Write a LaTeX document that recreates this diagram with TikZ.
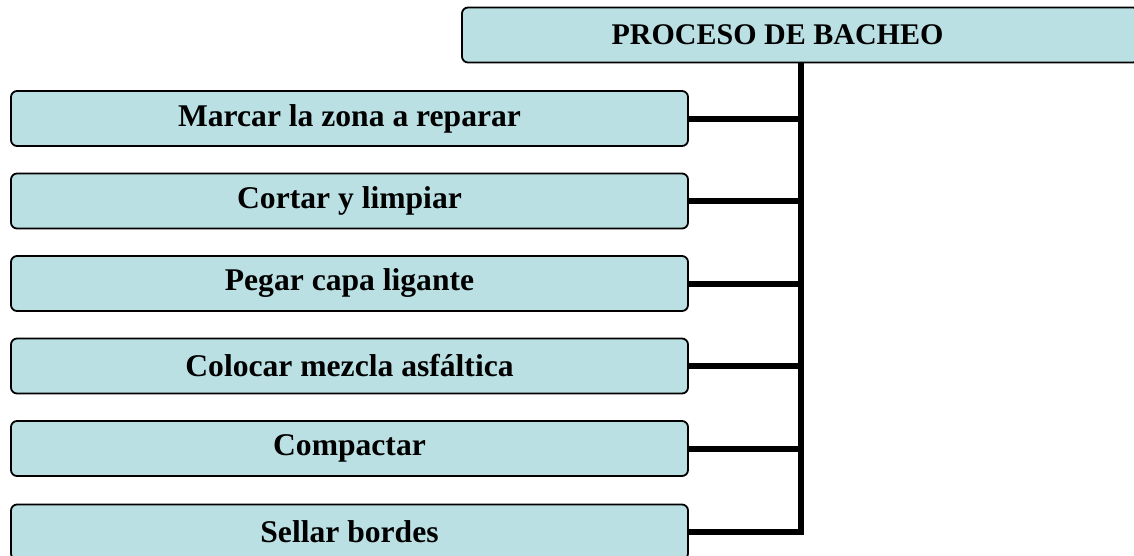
\documentclass[tikz,border=0pt]{standalone}
\usepackage{fontspec}
\setmainfont{Liberation Serif}
\usetikzlibrary{positioning}
\definecolor{bleuclair}{RGB}{186,224,227}
\tikzset{
  etape/.style={draw=black, line width=1.8pt, fill=bleuclair, rounded corners=6pt,
    minimum width=677pt, minimum height=55pt, inner sep=0pt,
    font=\bfseries\fontsize{31.6}{36}\selectfont},
  lien/.style={line width=6pt, line join=miter}
}
\begin{document}
\begin{tikzpicture}[x=1pt,y=-1pt]

% Cadre
\useasboundingbox (0,0) rectangle (1134,555);

% Titre
\node[etape, font=\bfseries\fontsize{30}{34}\selectfont] (titre) at (800.5,35)
  {PROCESO DE BACHEO\hspace*{46pt}};

% Etapes
\node[etape] (m1) at (349.5,118.5) {Marcar la zona a reparar};
\node[etape] (m2) at (349.5,201) {Cortar y limpiar};
\node[etape] (m3) at (349.5,283.5) {Pegar capa ligante};
\node[etape] (m4) at (349.5,366) {Colocar mezcla asfáltica};
\node[etape] (m5) at (349.5,448.5) {Compactar};
\node[etape] (m6) at (349.5,532) {Sellar bordes};

% Liens
\draw[lien] (titre.south) |- (m6.east);
\foreach \i in {1,...,5}
  \draw[lien] (m\i.east) -- (m\i.east -| titre.south);
\end{tikzpicture}
\end{document}
